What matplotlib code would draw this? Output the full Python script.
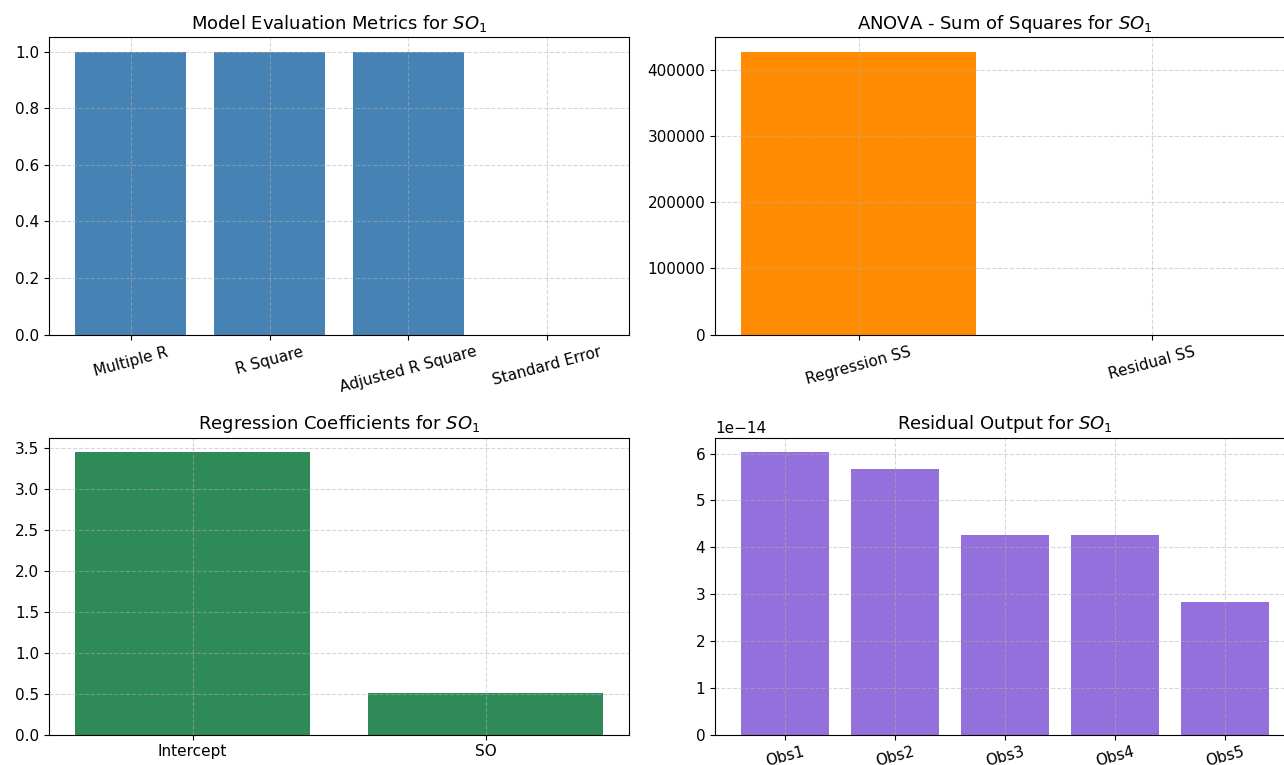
import numpy as np
import matplotlib
matplotlib.use("Agg")
import matplotlib.pyplot as plt
from matplotlib.ticker import MultipleLocator

# regression summary for SO1
metric_names = ["Multiple R", "R Square", "Adjusted R Square", "Standard Error"]
metric_values = [1.0, 1.0, 1.0, 3.3e-14]

anova_names = ["Regression SS", "Residual SS"]
anova_values = [427600.0, 6.9e-27]

coef_names = ["Intercept", "SO"]
coef_values = [3.45, 0.505]

obs_names = ["Obs1", "Obs2", "Obs3", "Obs4", "Obs5"]
residuals = [6.04e-14, 5.68e-14, 4.26e-14, 4.26e-14, 2.84e-14]

plt.rcParams['font.size'] = 11
title_size = 13

fig = plt.figure(figsize=(12.84, 7.65), dpi=100)

# axes placed in figure fractions (right column runs slightly past the edge)
W, H = 0.4517, 0.3885
ax1 = fig.add_axes([0.0382, 0.5625, W, H])
ax2 = fig.add_axes([0.5569, 0.5625, W, H])
ax3 = fig.add_axes([0.0382, 0.0396, W, H])
ax4 = fig.add_axes([0.5569, 0.0396, W, H])

ax1.bar(metric_names, metric_values, color="steelblue")
ax1.set_title("Model Evaluation Metrics for $SO_1$", fontsize=title_size)
ax1.tick_params(axis="x", labelrotation=15)

ax2.bar(anova_names, anova_values, color="darkorange")
ax2.set_title("ANOVA - Sum of Squares for $SO_1$", fontsize=title_size)
ax2.tick_params(axis="x", labelrotation=15)
ax2.yaxis.set_major_locator(MultipleLocator(100000))

ax3.bar(coef_names, coef_values, color="seagreen")
ax3.set_title("Regression Coefficients for $SO_1$", fontsize=title_size)

ax4.bar(obs_names, residuals, color="mediumpurple")
ax4.set_title("Residual Output for $SO_1$", fontsize=title_size)
ax4.tick_params(axis="x", labelrotation=15)

for ax in [ax1, ax2, ax3, ax4]:
    ax.grid(True, linestyle="--", alpha=0.5)

fig.savefig("out.png", dpi=100)
